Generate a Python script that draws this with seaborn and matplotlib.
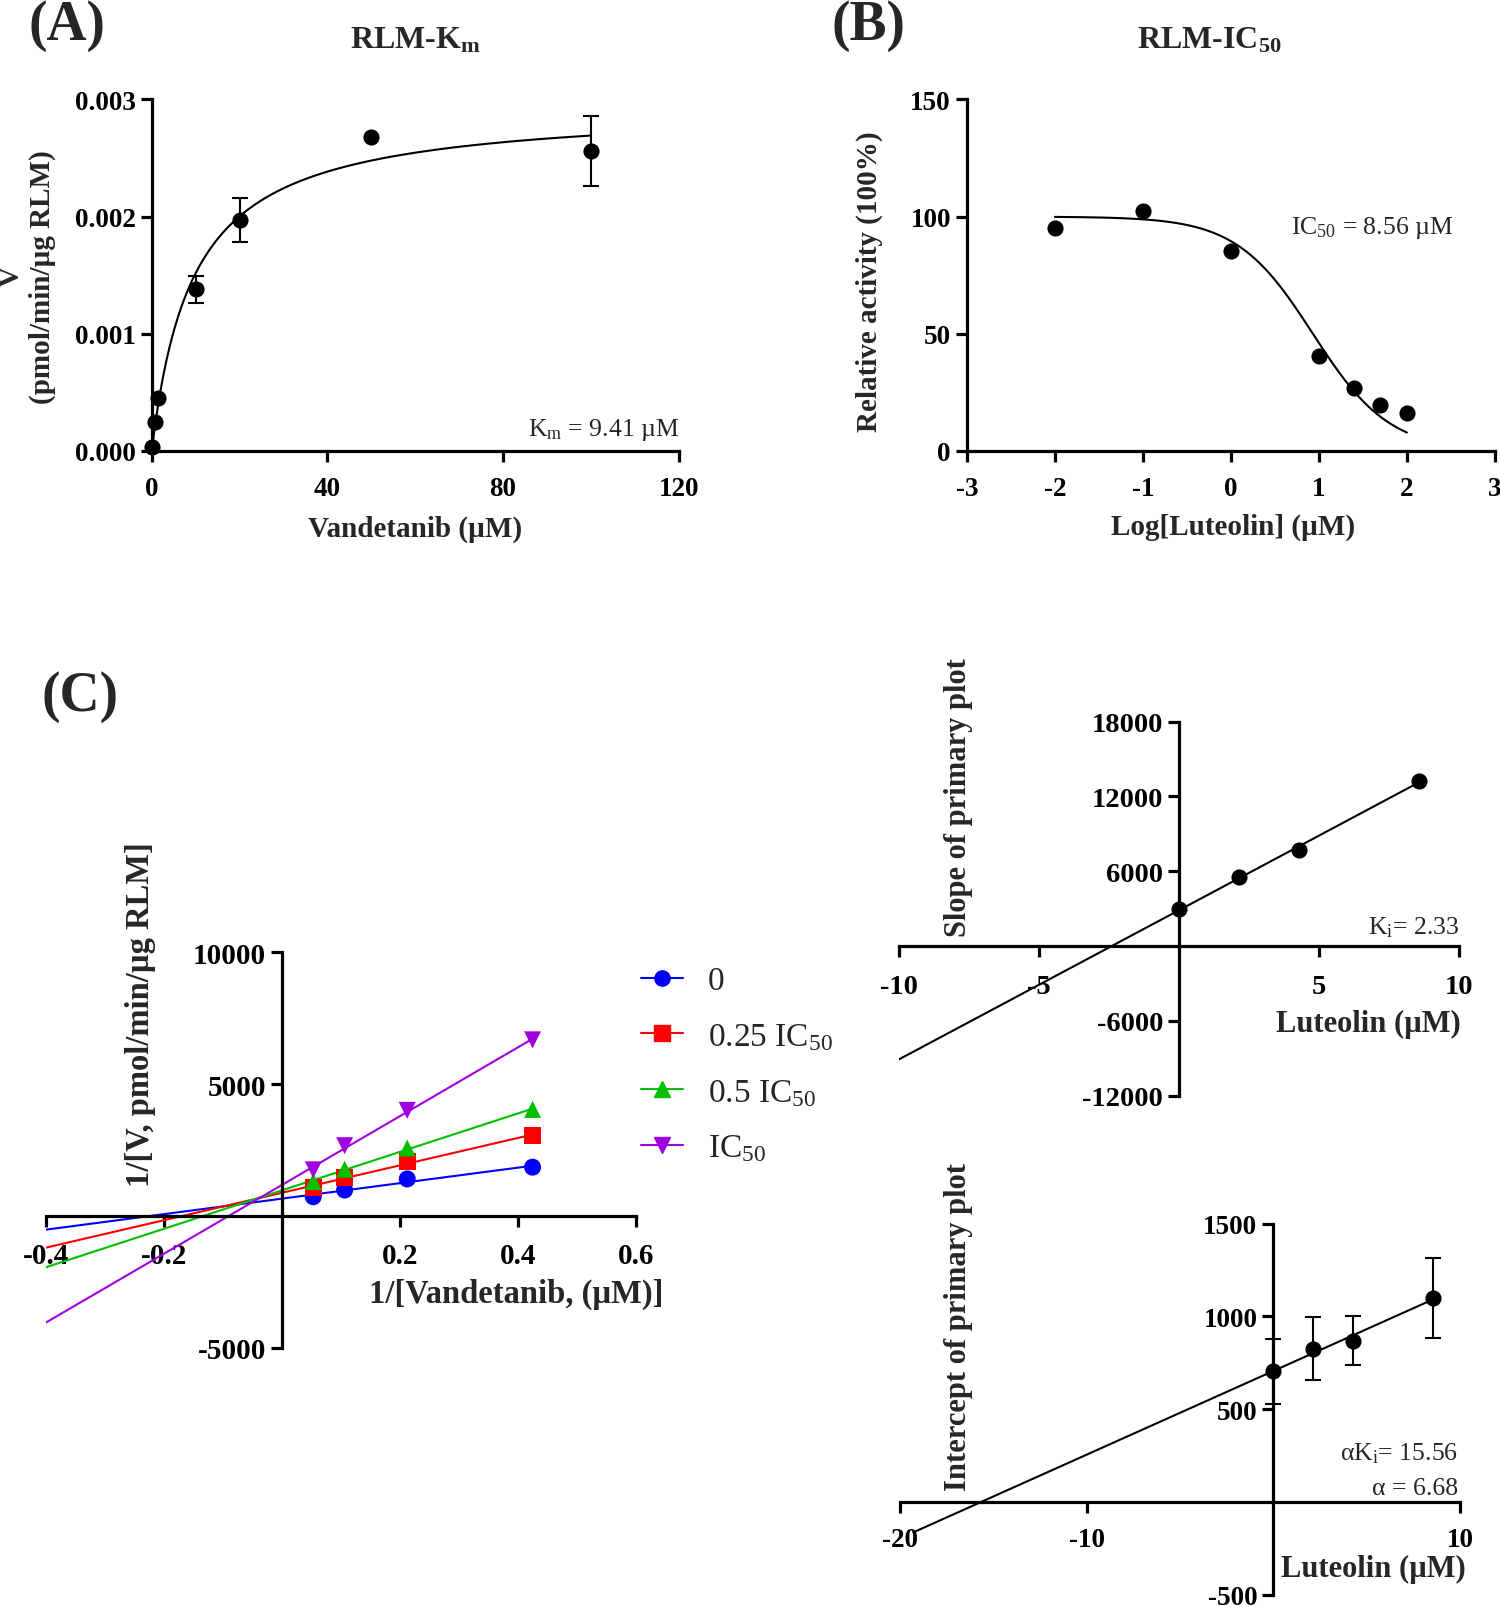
import numpy as np
import pandas as pd
import matplotlib.pyplot as plt
from matplotlib.lines import Line2D
import seaborn as sns

sns.set_style("ticks")
plt.rcParams["font.family"] = ["Liberation Serif", "DejaVu Serif"]
plt.rcParams["mathtext.default"] = "regular"
plt.rcParams["axes.unicode_minus"] = False

# %% data
# (A) Michaelis-Menten, RLM
km_conc = [0, 0.75, 1.5, 10, 20, 50, 100]
km_rate = [0.00003, 0.00025, 0.000455, 0.00138, 0.00197, 0.00268, 0.00256]
km_err = [0, 0, 0, 0.000115, 0.00019, 0, 0.0003]
km_value = 9.41
vmax_value = 0.002945

# (B) IC50 curve
log_lut = [-2, -1, 0, 1, 1.4, 1.7, 2]
rel_activity = [95.3, 102.6, 85.2, 40.5, 26.8, 19.5, 16.4]
ic50_value = 8.56
hill_slope = 1.0

# (C) Lineweaver-Burk
inv_sub = [0.0531, 0.1063, 0.2125, 0.4251]
lb_labels = ["0", "0.25 IC$_{50}$", "0.5 IC$_{50}$", "IC$_{50}$"]
lb_0 = [726, 981, 1401, 1847]
lb_025 = [1083, 1452, 2064, 3045]
lb_05 = [1300, 1771, 2573, 4038]
lb_ic50 = [1745, 2662, 4000, 6675]
lb_colors = ["#0000FF", "#FF0000", "#00C000", "#A000E0"]
lb_markers = ["o", "s", "^", "v"]

# secondary plots
lut_conc = [0, 2.14, 4.28, 8.56]
slope_vals = [2960, 5500, 7720, 13230]
intercept_vals = [705, 825, 869, 1102]
intercept_err = [175, 170, 131, 216]

# layout is measured on a 1463 x 1567 preview of the 1500 x 1606 page
W, H = 1463, 1567
fig = plt.figure(figsize=(15.0, 16.06), dpi=100)


def rect(l, t, r, b):
    return [l / W, 1 - b / H, (r - l) / W, (b - t) / H]


def fpos(x, y):
    return (x / W, 1 - y / H)


def style_axes(ax, tick_size, xpad, centered=False):
    for side in ["top", "right"]:
        ax.spines[side].set_visible(False)
    for side in ["left", "bottom"]:
        ax.spines[side].set_linewidth(2.3)
        ax.spines[side].set_color("black")
    if centered:
        ax.spines["left"].set_position(("data", 0))
        ax.spines["bottom"].set_position(("data", 0))
    ax.tick_params(direction="out", length=8, width=2.3, labelsize=tick_size, colors="black")
    ax.tick_params(axis="x", pad=xpad)
    ax.set_facecolor("none")


def set_ticks(ax, xt, xl, yt, yl, size):
    ax.set_xticks(xt, labels=xl, fontweight="bold", fontsize=size)
    ax.set_yticks(yt, labels=yl, fontweight="bold", fontsize=size)


def place_ylabel(ax, text, x, y, size):
    ax.set_ylabel(text, fontsize=size, fontweight="bold", va="center", ha="center")
    ax.yaxis.set_label_coords(*fpos(x, y), transform=fig.transFigure)


def place_xlabel(ax, text, x, y, size, ha="center"):
    ax.set_xlabel(text, fontsize=size, fontweight="bold", va="center", ha=ha)
    ax.xaxis.set_label_coords(*fpos(x, y), transform=fig.transFigure)


# %% (A) RLM-Km
ax_a = fig.add_axes(rect(148, 98, 662, 441))
style_axes(ax_a, 19.5, 10)
ax_a.set_xlim(0, 120)
ax_a.set_ylim(0, 0.003)
xs = np.linspace(0, max(km_conc), 300)
sns.lineplot(x=xs, y=vmax_value * xs / (km_value + xs), color="black", lw=1.5, ax=ax_a)
err_idx = [i for i, e in enumerate(km_err) if e > 0]
ax_a.errorbar([km_conc[i] for i in err_idx], [km_rate[i] for i in err_idx],
              yerr=[km_err[i] for i in err_idx], fmt="none", ecolor="black",
              elinewidth=1.5, capsize=6, capthick=1.5, clip_on=False)
sns.scatterplot(x=km_conc, y=km_rate, color="black", s=135, linewidth=0,
                ax=ax_a, zorder=5, clip_on=False)
set_ticks(ax_a, [0, 40, 80, 120], ["0", "40", "80", "120"],
          [0, 0.001, 0.002, 0.003], ["0.000", "0.001", "0.002", "0.003"], 19.5)
place_ylabel(ax_a, "V\n(pmol/min/µg RLM)", 26, 270, 21)
place_xlabel(ax_a, "Vandetanib (µM)", 405, 516, 21)
fig.text(*fpos(662, 420), "K$_{m}$ = 9.41 µM", fontsize=18.5, ha="right", va="center")
fig.text(*fpos(405, 40), "RLM-K$_{m}$", fontsize=23, fontweight="bold", ha="center", va="center")
fig.text(*fpos(65, 25), "(A)", fontsize=40, fontweight="bold", ha="center", va="center")

# %% (B) RLM-IC50
ax_b = fig.add_axes(rect(943, 98, 1458, 441))
style_axes(ax_b, 19.5, 10)
ax_b.set_xlim(-3, 3)
ax_b.set_ylim(0, 150)
xs = np.linspace(min(log_lut), max(log_lut), 300)
curve = 100 / (1 + 10 ** ((xs - np.log10(ic50_value)) * hill_slope))
sns.lineplot(x=xs, y=curve, color="black", lw=1.5, ax=ax_b)
sns.scatterplot(x=log_lut, y=rel_activity, color="black", s=135, linewidth=0,
                ax=ax_b, zorder=5, clip_on=False)
set_ticks(ax_b, [-3, -2, -1, 0, 1, 2, 3], ["-3", "-2", "-1", "0", "1", "2", "3"],
          [0, 50, 100, 150], ["0", "50", "100", "150"], 19.5)
place_ylabel(ax_b, "Relative activity (100%)", 848, 275, 21)
place_xlabel(ax_b, "Log[Luteolin] (µM)", 1203, 515, 21)
fig.text(*fpos(1338, 222), "IC$_{50}$ = 8.56 µM", fontsize=18.5, ha="center", va="center")
fig.text(*fpos(1180, 40), "RLM-IC$_{50}$", fontsize=23, fontweight="bold", ha="center", va="center")
fig.text(*fpos(847, 25), "(B)", fontsize=40, fontweight="bold", ha="center", va="center")

# %% (C) Lineweaver-Burk
lb_df = pd.DataFrame({
    "inv_s": inv_sub * 4,
    "inv_v": lb_0 + lb_025 + lb_05 + lb_ic50,
    "group": np.repeat(lb_labels, len(inv_sub)),
})
ax_c = fig.add_axes(rect(45, 930, 620, 1316))
style_axes(ax_c, 21, 10.5, centered=True)
ax_c.set_xlim(-0.4, 0.6)
ax_c.set_ylim(-5000, 10000)
line_x = np.array([-0.4, max(inv_sub)])
for lab, col in zip(lb_labels, lb_colors):
    sub = lb_df[lb_df["group"] == lab]
    k, b0 = np.polyfit(sub["inv_s"], sub["inv_v"], 1)
    sns.lineplot(x=line_x, y=k * line_x + b0, color=col, lw=1.5, ax=ax_c)
sns.scatterplot(data=lb_df, x="inv_s", y="inv_v", hue="group", style="group",
                palette=dict(zip(lb_labels, lb_colors)),
                markers=dict(zip(lb_labels, lb_markers)),
                s=150, linewidth=0, ax=ax_c, zorder=5, legend=False)
set_ticks(ax_c, [-0.4, -0.2, 0.2, 0.4, 0.6], ["-0.4", "-0.2", "0.2", "0.4", "0.6"],
          [-5000, 5000, 10000], ["-5000", "5000", "10000"], 21)
place_ylabel(ax_c, "1/[V, pmol/min/µg RLM]", 137, 990, 23.5)
place_xlabel(ax_c, "1/[Vandetanib, (µM)]", 503, 1263, 23.5)
handles = [Line2D([0], [0], color=c, marker=m, markersize=11, lw=1.5)
           for c, m in zip(lb_colors, lb_markers)]
ax_c.legend(handles, lb_labels, loc="upper left", bbox_to_anchor=fpos(596, 914),
            bbox_transform=fig.transFigure, frameon=False, fontsize=24,
            handlelength=1.25, handletextpad=0.75, labelspacing=0.75)
fig.text(*fpos(78, 680), "(C)", fontsize=40, fontweight="bold", ha="center", va="center")

# %% secondary plot: slopes
ax_d = fig.add_axes(rect(877, 705, 1423, 1070))
style_axes(ax_d, 20.5, 12, centered=True)
ax_d.set_xlim(-10, 10)
ax_d.set_ylim(-12000, 18000)
k, b0 = np.polyfit(lut_conc, slope_vals, 1)
line_x = np.array([-10, max(lut_conc)])
sns.lineplot(x=line_x, y=k * line_x + b0, color="black", lw=1.5, ax=ax_d)
sns.scatterplot(x=lut_conc, y=slope_vals, color="black", s=135, linewidth=0,
                ax=ax_d, zorder=5, clip_on=False)
set_ticks(ax_d, [-10, -5, 5, 10], ["-10", "-5", "5", "10"],
          [-12000, -6000, 6000, 12000, 18000], ["-12000", "-6000", "6000", "12000", "18000"], 20.5)
place_ylabel(ax_d, "Slope of primary plot", 935, 778, 22)
place_xlabel(ax_d, "Luteolin (µM)", 1425, 1000, 22, ha="right")
fig.text(*fpos(1423, 905), "K$_{i}$= 2.33", fontsize=18.5, ha="right", va="center")

# %% secondary plot: intercepts
ax_e = fig.add_axes(rect(878, 1195, 1424, 1557))
style_axes(ax_e, 19.5, 10, centered=True)
ax_e.set_xlim(-20, 10)
ax_e.set_ylim(-500, 1500)
k, b0 = np.polyfit(lut_conc, intercept_vals, 1)
line_x = np.array([-19.3, max(lut_conc)])
sns.lineplot(x=line_x, y=k * line_x + b0, color="black", lw=1.5, ax=ax_e)
ax_e.errorbar(lut_conc, intercept_vals, yerr=intercept_err, fmt="none", ecolor="black",
              elinewidth=1.5, capsize=6, capthick=1.5)
sns.scatterplot(x=lut_conc, y=intercept_vals, color="black", s=135, linewidth=0,
                ax=ax_e, zorder=5, clip_on=False)
set_ticks(ax_e, [-20, -10, 10], ["-20", "-10", "10"],
          [-500, 500, 1000, 1500], ["-500", "500", "1000", "1500"], 19.5)
place_ylabel(ax_e, "Intercept of primary plot", 935, 1295, 22)
place_xlabel(ax_e, "Luteolin (µM)", 1430, 1531, 22, ha="right")
fig.text(*fpos(1422, 1418), "αK$_{i}$= 15.56", fontsize=18.5, ha="right", va="center")
fig.text(*fpos(1422, 1453), "α = 6.68", fontsize=18.5, ha="right", va="center")

fig.savefig("out.png", dpi=100, facecolor="white")
